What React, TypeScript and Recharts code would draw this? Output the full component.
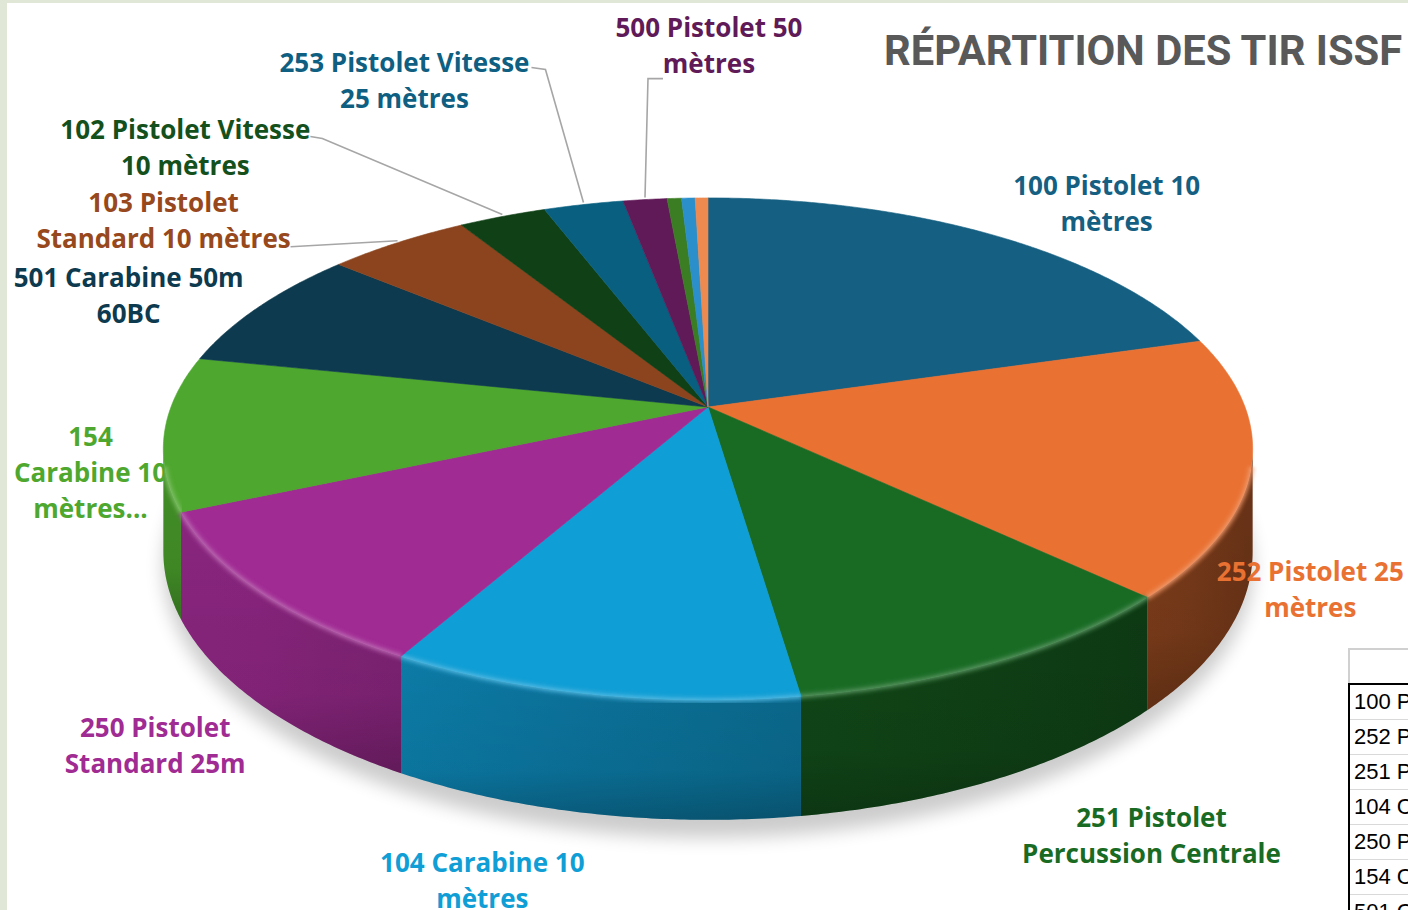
import React from 'react';
import { PieChart, Pie } from 'recharts';

// ---------- data ----------
const CATEGORIES = [
  '100 Pistolet 10 mètres',
  '252 Pistolet 25 mètres',
  '251 Pistolet Percussion Centrale',
  '104 Carabine 10 mètres',
  '250 Pistolet Standard 25m',
  '154 Carabine 10 mètres...',
  '501 Carabine 50m 60BC',
  '103 Pistolet Standard 10 mètres',
  '102 Pistolet Vitesse 10 mètres',
  '253 Pistolet Vitesse 25 mètres',
  '500 Pistolet 50 mètres',
  'Autre A',
  'Autre B',
  'Autre C',
];
const VALUES = [73.5, 60, 38, 37.5, 37, 35.5, 28.5, 18, 11, 10, 5.5, 1.8, 1.7, 1.6];
const LABEL_LINES: string[][] = [
  ['100 Pistolet 10', 'mètres'],
  ['252 Pistolet 25', 'mètres'],
  ['251 Pistolet', 'Percussion Centrale'],
  ['104 Carabine 10', 'mètres'],
  ['250 Pistolet', 'Standard 25m'],
  ['154', 'Carabine 10', 'mètres...'],
  ['501 Carabine 50m', '60BC'],
  ['103 Pistolet', 'Standard 10 mètres'],
  ['102 Pistolet Vitesse', '10 mètres'],
  ['253 Pistolet Vitesse', '25 mètres'],
  ['500 Pistolet 50', 'mètres'],
  [],
  [],
  [],
];
const TITLE = 'RÉPARTITION DES TIR ISSF';

// ---------- styles ----------
const COLORS = [
  '#156082', '#E97132', '#196B24', '#0F9ED5', '#A02B93', '#4EA72E',
  '#0D3A4E', '#8C441E', '#0F4016', '#095F80', '#601A58',
  '#3A7D23', '#2B8FCB', '#EE8A4F',
];
const LABEL_COLORS = [
  '#156082', '#E97132', '#196B24', '#0F9ED5', '#A02B93', '#4EA72E',
  '#0D3A4E', '#97481C', '#14501C', '#0E5F82', '#601A58',
  '#3A7D23', '#2B8FCB', '#EE8A4F',
];
// label offsets from the rim point at the slice's mid angle
const LABEL_OFFSETS: [number, number][] = [
  [115, -32], [59, 122], [154, 173], [-109, 186], [-105, 153], [-74, 39],
  [-130, -12], [-234, -23], [-317, -69], [-179, -125], [64, -155],
  [0, 0], [0, 0], [0, 0],
];
// labels whose text box is cut by the pie silhouette
const CLIP_AT_PIE = new Set([5]);
// leader line waypoints relative to label centre
const LEADERS: Record<number, [number, number][]> = {
  7: [[127, 27]],
  8: [[125, -11], [137, -9]],
  9: [[127, -12], [141, -10]],
  10: [[-46, 34], [-61, 34]],
};

const W = 1408;
const H = 910;
const CX = 708;
const CY = 407;
const R = 537;
const TILT = 0.4544;
const PERSP = 0.167;
const DEPTH = 0.186;
const VIS0 = (Math.acos(-PERSP) * 180) / Math.PI;
const VIS1 = 360 - VIS0;
const LINE_H = 36;

const data = CATEGORIES.map((name, i) => ({ name, value: VALUES[i] }));

const rad = (d: number) => (d * Math.PI) / 180;
function project(cx: number, cy: number, r: number, theta: number, drop = 0) {
  const u = Math.sin(rad(theta));
  const w = Math.cos(rad(theta));
  const d = 1 + PERSP * w;
  return { x: cx + (r * u) / d, y: cy + (-r * TILT * w + drop * r * DEPTH) / d };
}
function hexRgb(hex: string) {
  const n = parseInt(hex.slice(1), 16);
  return [(n >> 16) & 255, (n >> 8) & 255, n & 255];
}
function shade(hex: string, f: number) {
  const [r, g, b] = hexRgb(hex);
  return `rgb(${Math.round(r * f)},${Math.round(g * f)},${Math.round(b * f)})`;
}
function tint(hex: string, t: number) {
  const [r, g, b] = hexRgb(hex);
  return `rgb(${Math.round(r + (255 - r) * t)},${Math.round(g + (255 - g) * t)},${Math.round(b + (255 - b) * t)})`;
}
function light(theta: number) {
  const s = Math.min(1, Math.max(0, (theta - 110) / 120));
  return 0.45 + 0.4 * s;
}
function rimPoints(cx: number, cy: number, r: number, a: number, b: number, drop = 0) {
  const n = Math.max(2, Math.ceil(Math.abs(b - a) / 0.5));
  const pts: { x: number; y: number }[] = [];
  for (let i = 0; i <= n; i++) pts.push(project(cx, cy, r, a + ((b - a) * i) / n, drop));
  return pts;
}
const toD = (pts: { x: number; y: number }[]) =>
  pts.map((p, i) => `${i ? 'L' : 'M'}${p.x.toFixed(2)},${p.y.toFixed(2)}`).join('');

// ---------- renderers (driven by Recharts sector geometry) ----------
const renderWall = (props: any) => {
  const { cx, cy, outerRadius: r, startAngle, endAngle, index } = props;
  const t0 = 90 - startAngle;
  const t1 = 90 - endAngle;
  let extras: React.ReactNode = null;
  if (index === 0) {
    const base = rimPoints(cx, cy, r, 0, 360, 1.15);
    extras = (
      <g>
        <defs>
          <filter id="shadowBlur" x="-20%" y="-20%" width="140%" height="140%">
            <feGaussianBlur stdDeviation="9" />
          </filter>
          <filter id="rimBlur" x="-5%" y="-5%" width="110%" height="110%">
            <feGaussianBlur stdDeviation="1.6" />
          </filter>
          <linearGradient id="vshade" x1="0" y1="0" x2="0" y2="1">
            <stop offset="0" stopColor="#000" stopOpacity="0" />
            <stop offset="0.7" stopColor="#000" stopOpacity="0.05" />
            <stop offset="1" stopColor="#000" stopOpacity="0.22" />
          </linearGradient>
        </defs>
        <path d={toD(base) + 'Z'} fill="#000" opacity={0.2} filter="url(#shadowBlur)" />
      </g>
    );
  }
  const lo = Math.max(t0, VIS0);
  const hi = Math.min(t1, VIS1);
  if (hi <= lo) return <g>{extras}</g>;
  const top = rimPoints(cx, cy, r, lo, hi);
  const bottom = rimPoints(cx, cy, r, hi, lo, 1);
  const d = toD(top) + toD(bottom).replace(/^M/, 'L') + 'Z';
  const color = COLORS[index % COLORS.length];
  const xa = project(cx, cy, r, lo).x;
  const xb = project(cx, cy, r, hi).x;
  const stops = [0, 0.25, 0.5, 0.75, 1].map((k) => {
    const th = lo + (hi - lo) * k;
    const x = project(cx, cy, r, th).x;
    return { off: Math.abs(xb - xa) < 1e-6 ? k : (x - xa) / (xb - xa), c: shade(color, light(th)) };
  });
  const gid = `wallGrad${index}`;
  return (
    <g>
      {extras}
      <defs>
        <linearGradient id={gid} gradientUnits="userSpaceOnUse" x1={xa} y1={0} x2={xb} y2={0}>
          {stops.map((s, i) => (
            <stop key={i} offset={Math.min(1, Math.max(0, s.off))} stopColor={s.c} />
          ))}
        </linearGradient>
      </defs>
      <path d={d} fill={`url(#${gid})`} />
      <path d={d} fill="url(#vshade)" />
    </g>
  );
};

const renderTop = (props: any) => {
  const { cx, cy, outerRadius: r, startAngle, endAngle, index } = props;
  const t0 = 90 - startAngle;
  const t1 = 90 - endAngle;
  const color = COLORS[index % COLORS.length];
  const pts = rimPoints(cx, cy, r, t0, t1);
  const d = `M${cx},${cy}` + toD(pts).replace(/^M/, 'L') + 'Z';
  const lo = Math.max(t0, VIS0 + 4);
  const hi = Math.min(t1, VIS1 - 4);
  let rim: React.ReactNode = null;
  if (hi > lo) {
    const rp = toD(rimPoints(cx, cy, r, lo, hi));
    rim = (
      <g filter="url(#rimBlur)">
        <path d={rp} fill="none" stroke={tint(color, 0.2)} strokeWidth={9} opacity={0.3} />
        <path d={rp} fill="none" stroke={tint(color, 0.3)} strokeWidth={3} opacity={0.8} />
      </g>
    );
  }
  return (
    <g>
      <path d={d} fill={color} stroke={color} strokeWidth={0.6} />
      {rim}
    </g>
  );
};

const renderLabel = (props: any) => {
  const { cx, cy, outerRadius: r, midAngle, index } = props;
  const lines = LABEL_LINES[index] || [];
  if (!lines.length) return <g />;
  const rimPt = project(cx, cy, r, 90 - midAngle);
  const [ox, oy] = LABEL_OFFSETS[index];
  const lx = rimPt.x + ox;
  const ly = rimPt.y + oy;
  const color = LABEL_COLORS[index % LABEL_COLORS.length];
  const leader = LEADERS[index];
  let clip: React.ReactNode = null;
  let clipRef: string | undefined;
  if (CLIP_AT_PIE.has(index)) {
    const edge = project(cx, cy, r, VIS1).x;
    const id = `labelClip${index}`;
    clip = (
      <defs>
        <clipPath id={id}>
          <rect x={0} y={ly - 80} width={edge + 1} height={160} />
        </clipPath>
      </defs>
    );
    clipRef = `url(#${id})`;
  }
  return (
    <g>
      {clip}
      {leader && (
        <polyline
          points={[...leader.map(([dx, dy]) => `${lx + dx},${ly + dy}`), `${rimPt.x},${rimPt.y - 2}`].join(' ')}
          fill="none"
          stroke="#A6A6A6"
          strokeWidth={1.6}
        />
      )}
      <g clipPath={clipRef}>
        {lines.map((t, i) => (
          <text
            key={i}
            x={lx}
            y={ly + (i - (lines.length - 1) / 2) * LINE_H}
            textAnchor="middle"
            dominantBaseline="central"
            fill={color}
            fontFamily="'Open Sans', sans-serif"
            fontWeight={700}
            fontSize={26}
          >
            {t}
          </text>
        ))}
      </g>
    </g>
  );
};

const TABLE_ROWS = CATEGORIES.slice(0, 7);

const pieCommon = {
  data,
  dataKey: 'value',
  nameKey: 'name',
  cx: CX,
  cy: CY,
  outerRadius: R,
  startAngle: 90,
  endAngle: -270,
  fill: 'transparent',
  stroke: 'none',
  isAnimationActive: false,
  labelLine: false,
};

export default function App() {
  return (
    <div
      style={{
        position: 'fixed',
        left: 0,
        top: 0,
        width: W,
        height: H,
        overflow: 'hidden',
        background: '#ffffff',
      }}
    >
      <div style={{ position: 'absolute', left: 0, top: 0, width: 7, height: H, background: '#E1E7D6' }} />
      <div style={{ position: 'absolute', left: 0, top: 0, width: W, height: 3, background: '#E1E7D6' }} />
      <div style={{ position: 'absolute', left: 0, top: 0 }}>
        <PieChart width={W} height={H} margin={{ top: 0, right: 0, bottom: 0, left: 0 }}>
          <Pie {...(pieCommon as any)} label={renderWall} />
          <Pie {...(pieCommon as any)} label={renderTop} />
          <Pie {...(pieCommon as any)} label={renderLabel} />
        </PieChart>
      </div>
      <div
        style={{
          position: 'absolute',
          left: 884,
          top: 25,
          fontFamily: 'Roboto, sans-serif',
          fontWeight: 700,
          fontSize: 41.7,
          color: '#595959',
          whiteSpace: 'nowrap',
          lineHeight: '52px',
        }}
      >
        {TITLE}
      </div>
      <div style={{ position: 'absolute', left: 1348, top: 648, width: 80, height: 262 }}>
        <div
          style={{
            height: 33,
            borderTop: '2px solid #D0D0D0',
            borderLeft: '2px solid #D0D0D0',
            background: '#fff',
          }}
        />
        <div style={{ borderTop: '2px solid #000', borderLeft: '2px solid #000', height: 240 }}>
          {TABLE_ROWS.map((t, i) => (
            <div
              key={i}
              style={{
                height: 34,
                borderBottom: '1px solid #D9D9D9',
                fontFamily: "'Liberation Sans', Arial, sans-serif",
                fontSize: 22,
                lineHeight: '34px',
                paddingLeft: 4,
                whiteSpace: 'nowrap',
                color: '#000',
              }}
            >
              {t}
            </div>
          ))}
        </div>
      </div>
    </div>
  );
}
